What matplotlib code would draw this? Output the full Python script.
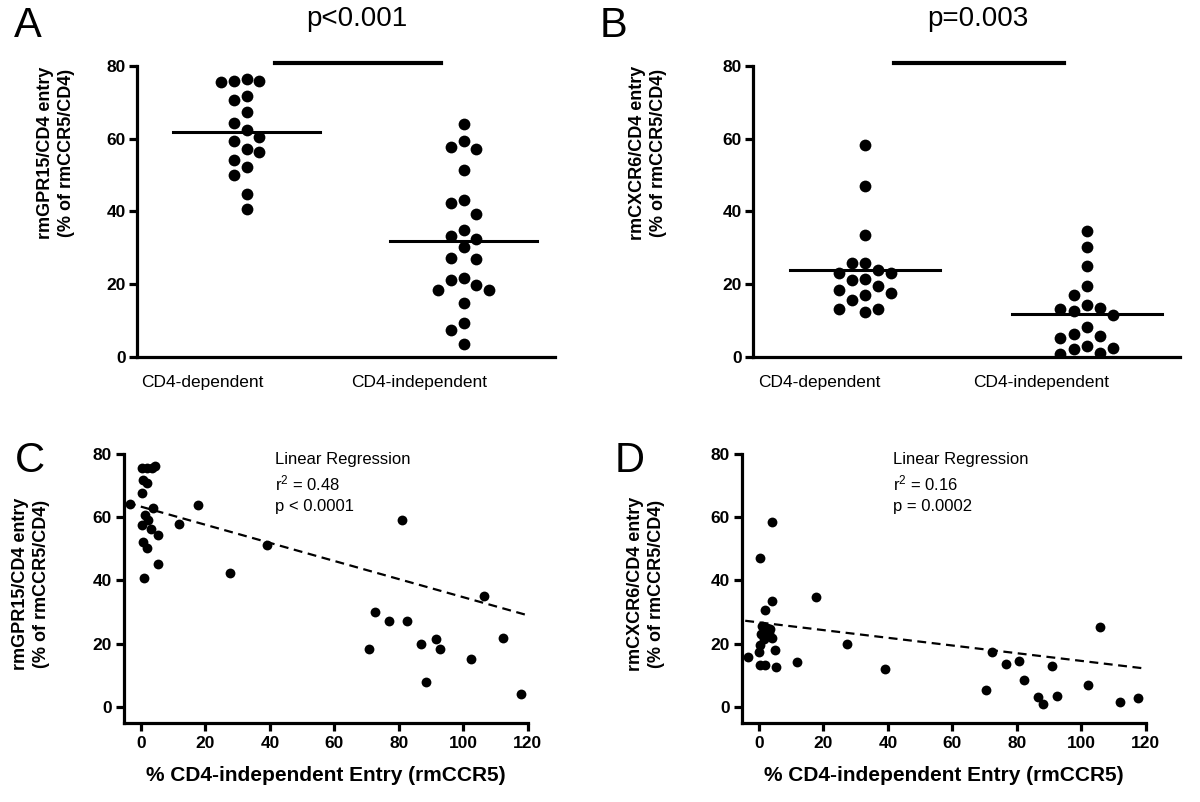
import numpy as np
import matplotlib
matplotlib.use('Agg')
import matplotlib.pyplot as plt

plt.rcParams['font.family'] = ['Liberation Sans', 'DejaVu Sans']
plt.rcParams['mathtext.default'] = 'regular'

# Panel A: rmGPR15/CD4 entry (% of rmCCR5/CD4)
a_dep = [76.3, 75.8, 75.6, 75.8, 70.6, 71.7, 67.4, 64.2, 62.3, 59.5, 60.5,
         57.1, 56.3, 54.1, 52.1, 50.0, 44.8, 40.7]
a_ind = [64.0, 57.6, 57.1, 59.3, 51.3, 43.2, 42.3, 39.3, 34.8, 33.3, 32.5,
         30.1, 27.0, 27.2, 21.3, 21.6, 19.9, 18.3, 18.3, 14.9, 9.3, 7.5, 3.6]

# Panel B: rmCXCR6/CD4 entry (% of rmCCR5/CD4)
b_dep = [58.4, 46.9, 33.4, 25.7, 25.7, 23.8, 23.1, 23.1, 21.3, 21.4, 19.4,
         17.6, 17.0, 18.5, 15.6, 13.3, 13.1, 12.4]
b_ind = [34.5, 30.2, 25.0, 19.6, 17.0, 14.2, 13.3, 12.6, 13.6, 11.6, 8.2,
         5.7, 5.2, 6.3, 3.1, 2.3, 2.6, 0.7, 1.1]

groups = ['CD4-dependent', 'CD4-independent']
p_ab = ['p<0.001', 'p=0.003']

# Panel C / D: % CD4-independent entry vs coreceptor entry
c_x = [-3.4, 0.2, 1.8, 3.5, 4.3, 0.7, 1.8, 0.2, 3.8, 1.2, 2.3, 0.2, 3.0, 5.4,
       11.9, 0.5, 1.8, 5.1, 0.9, 17.6, 27.6, 39.2,
       80.9, 106.4, 72.5, 77.0, 82.7, 70.8, 86.9, 91.4, 92.7, 102.3, 112.4,
       88.5, 117.8]
c_y = [64.2, 75.8, 75.8, 75.8, 76.3, 71.9, 70.8, 67.7, 62.9, 60.8, 59.2, 57.6,
       56.3, 54.4, 57.9, 52.1, 50.2, 45.1, 40.9, 63.9, 42.5, 51.4,
       59.3, 35.2, 30.0, 27.3, 27.3, 18.3, 20.0, 21.5, 18.4, 15.1, 21.7,
       7.7, 3.9]
d_x = [-3.3, 0.3, 3.9, 3.9, 1.9, 17.7, 1.0, 2.5, 3.5, 0.5, 2.0, 3.0, 1.5, 3.9,
       0.3, 0.0, 4.8, 0.3, 1.9, 5.3, 11.7, 27.2, 39.2,
       105.9, 72.3, 76.6, 80.8, 91.0, 82.3, 70.4, 102.0, 86.7, 88.1, 92.6,
       112.1, 117.6]
d_y = [15.7, 47.0, 58.5, 33.6, 30.7, 34.8, 25.5, 25.0, 24.5, 23.0, 22.5, 23.5,
       21.5, 21.7, 19.6, 17.2, 18.0, 13.2, 13.2, 12.7, 14.0, 19.8, 11.9,
       25.3, 17.4, 13.5, 14.6, 12.8, 8.5, 5.2, 6.7, 2.9, 0.9, 3.3, 1.5, 2.8]

# reported linear fits (slope, intercept)
c_fit = (-0.287, 63.4)
d_fit = (-0.122, 26.7)
c_stats = ['Linear Regression', 'r$^2$ = 0.48', 'p < 0.0001']
d_stats = ['Linear Regression', 'r$^2$ = 0.16', 'p = 0.0002']

SPINE_W = 2.3


def swarm_offsets(values, gap, step):
    """Simple column swarm: put each point in the nearest free column."""
    values = np.asarray(values)
    offs = np.zeros(len(values))
    placed = []
    for i in np.argsort(values)[::-1]:
        v = values[i]
        for k in [0, -1, 1, -2, 2, -3, 3]:
            if all(abs(v - pv) >= gap for pk, pv in placed if pk == k):
                break
        placed.append((k, v))
        offs[i] = k * step
    return offs


def style_axes(ax):
    for side in ['top', 'right']:
        ax.spines[side].set_visible(False)
    for side in ['left', 'bottom']:
        ax.spines[side].set_linewidth(SPINE_W)


def dot_plot(ax, dep, ind, ylabel, ptext):
    style_axes(ax)
    for pos, vals in zip([1, 2], [dep, ind]):
        xs = pos + swarm_offsets(vals, 4.0, 0.0594)
        ax.scatter(xs, vals, s=72, color='black', zorder=3, linewidths=0)
        m = np.mean(vals)
        ax.plot([pos - 0.338, pos + 0.338], [m, m], color='black', lw=2.2)
    ax.plot([1.132, 1.895], [80.8, 80.8], color='black', lw=3, clip_on=False)
    ax.text(1.51, 93, ptext, ha='center', va='center', fontsize=20)
    ax.set_xlim(0.495, 2.42)
    ax.set_ylim(0, 80)
    ax.set_yticks([0, 20, 40, 60, 80])
    # category labels sit a little left of the columns, as in the source
    ax.set_xticks([0.795, 1.795])
    ax.set_xticklabels(groups, fontsize=12.5)
    ax.tick_params(axis='x', length=0, pad=13)
    ax.tick_params(axis='y', length=6, width=SPINE_W, pad=2, labelsize=12.5)
    for lab in ax.get_yticklabels():
        lab.set_fontweight('bold')
    ax.set_ylabel(ylabel, fontsize=13, fontweight='bold', linespacing=1.3)


def reg_plot(ax, x, y, fit, stats, ylabel):
    style_axes(ax)
    ax.scatter(x, y, s=50, color='black', zorder=3, linewidths=0)
    xs = np.array([min(x) - 1.0, max(x) + 1.7])
    ax.plot(xs, fit[0] * xs + fit[1], color='black', lw=1.6,
            dashes=(4, 2.5))
    for i, s in enumerate(stats):
        ax.text(41.6, 78.5 - 7.6 * i, s, ha='left', va='center', fontsize=12)
    ax.set_xlim(-5.2, 120)
    ax.set_ylim(-5.3, 80)
    ax.set_xticks(np.arange(0, 121, 20))
    ax.set_yticks([0, 20, 40, 60, 80])
    ax.tick_params(length=6, width=SPINE_W, pad=3, labelsize=12.5)
    for lab in ax.get_xticklabels() + ax.get_yticklabels():
        lab.set_fontweight('bold')
    ax.set_xlabel('% CD4-independent Entry (rmCCR5)', fontsize=15,
                  fontweight='bold', labelpad=11)
    ax.set_ylabel(ylabel, fontsize=13, fontweight='bold', linespacing=1.3)


fig = plt.figure(figsize=(12, 8.02), dpi=100)
axA = fig.add_axes([0.1142, 0.5549, 0.348, 0.3628])
axB = fig.add_axes([0.6275, 0.5549, 0.3558, 0.3628])
axC = fig.add_axes([0.1036, 0.0981, 0.3361, 0.3354])
axD = fig.add_axes([0.6186, 0.0981, 0.3361, 0.3354])

dot_plot(axA, a_dep, a_ind, 'rmGPR15/CD4 entry\n(% of rmCCR5/CD4)', p_ab[0])
dot_plot(axB, b_dep, b_ind, 'rmCXCR6/CD4 entry\n(% of rmCCR5/CD4)', p_ab[1])
reg_plot(axC, c_x, c_y, c_fit, c_stats, 'rmGPR15/CD4 entry\n(% of rmCCR5/CD4)')
reg_plot(axD, d_x, d_y, d_fit, d_stats, 'rmCXCR6/CD4 entry\n(% of rmCCR5/CD4)')

axA.yaxis.set_label_coords(-0.148, 0.70)
axB.yaxis.set_label_coords(-0.201, 0.70)
axC.yaxis.set_label_coords(-0.184, 0.52)
axD.yaxis.set_label_coords(-0.192, 0.52)

for letter, x, y in [('A', 0.012, 0.992), ('B', 0.5, 0.992),
                     ('C', 0.012, 0.45), ('D', 0.512, 0.45)]:
    fig.text(x, y, letter, fontsize=30, ha='left', va='top')

fig.savefig('out.png', dpi=100)
